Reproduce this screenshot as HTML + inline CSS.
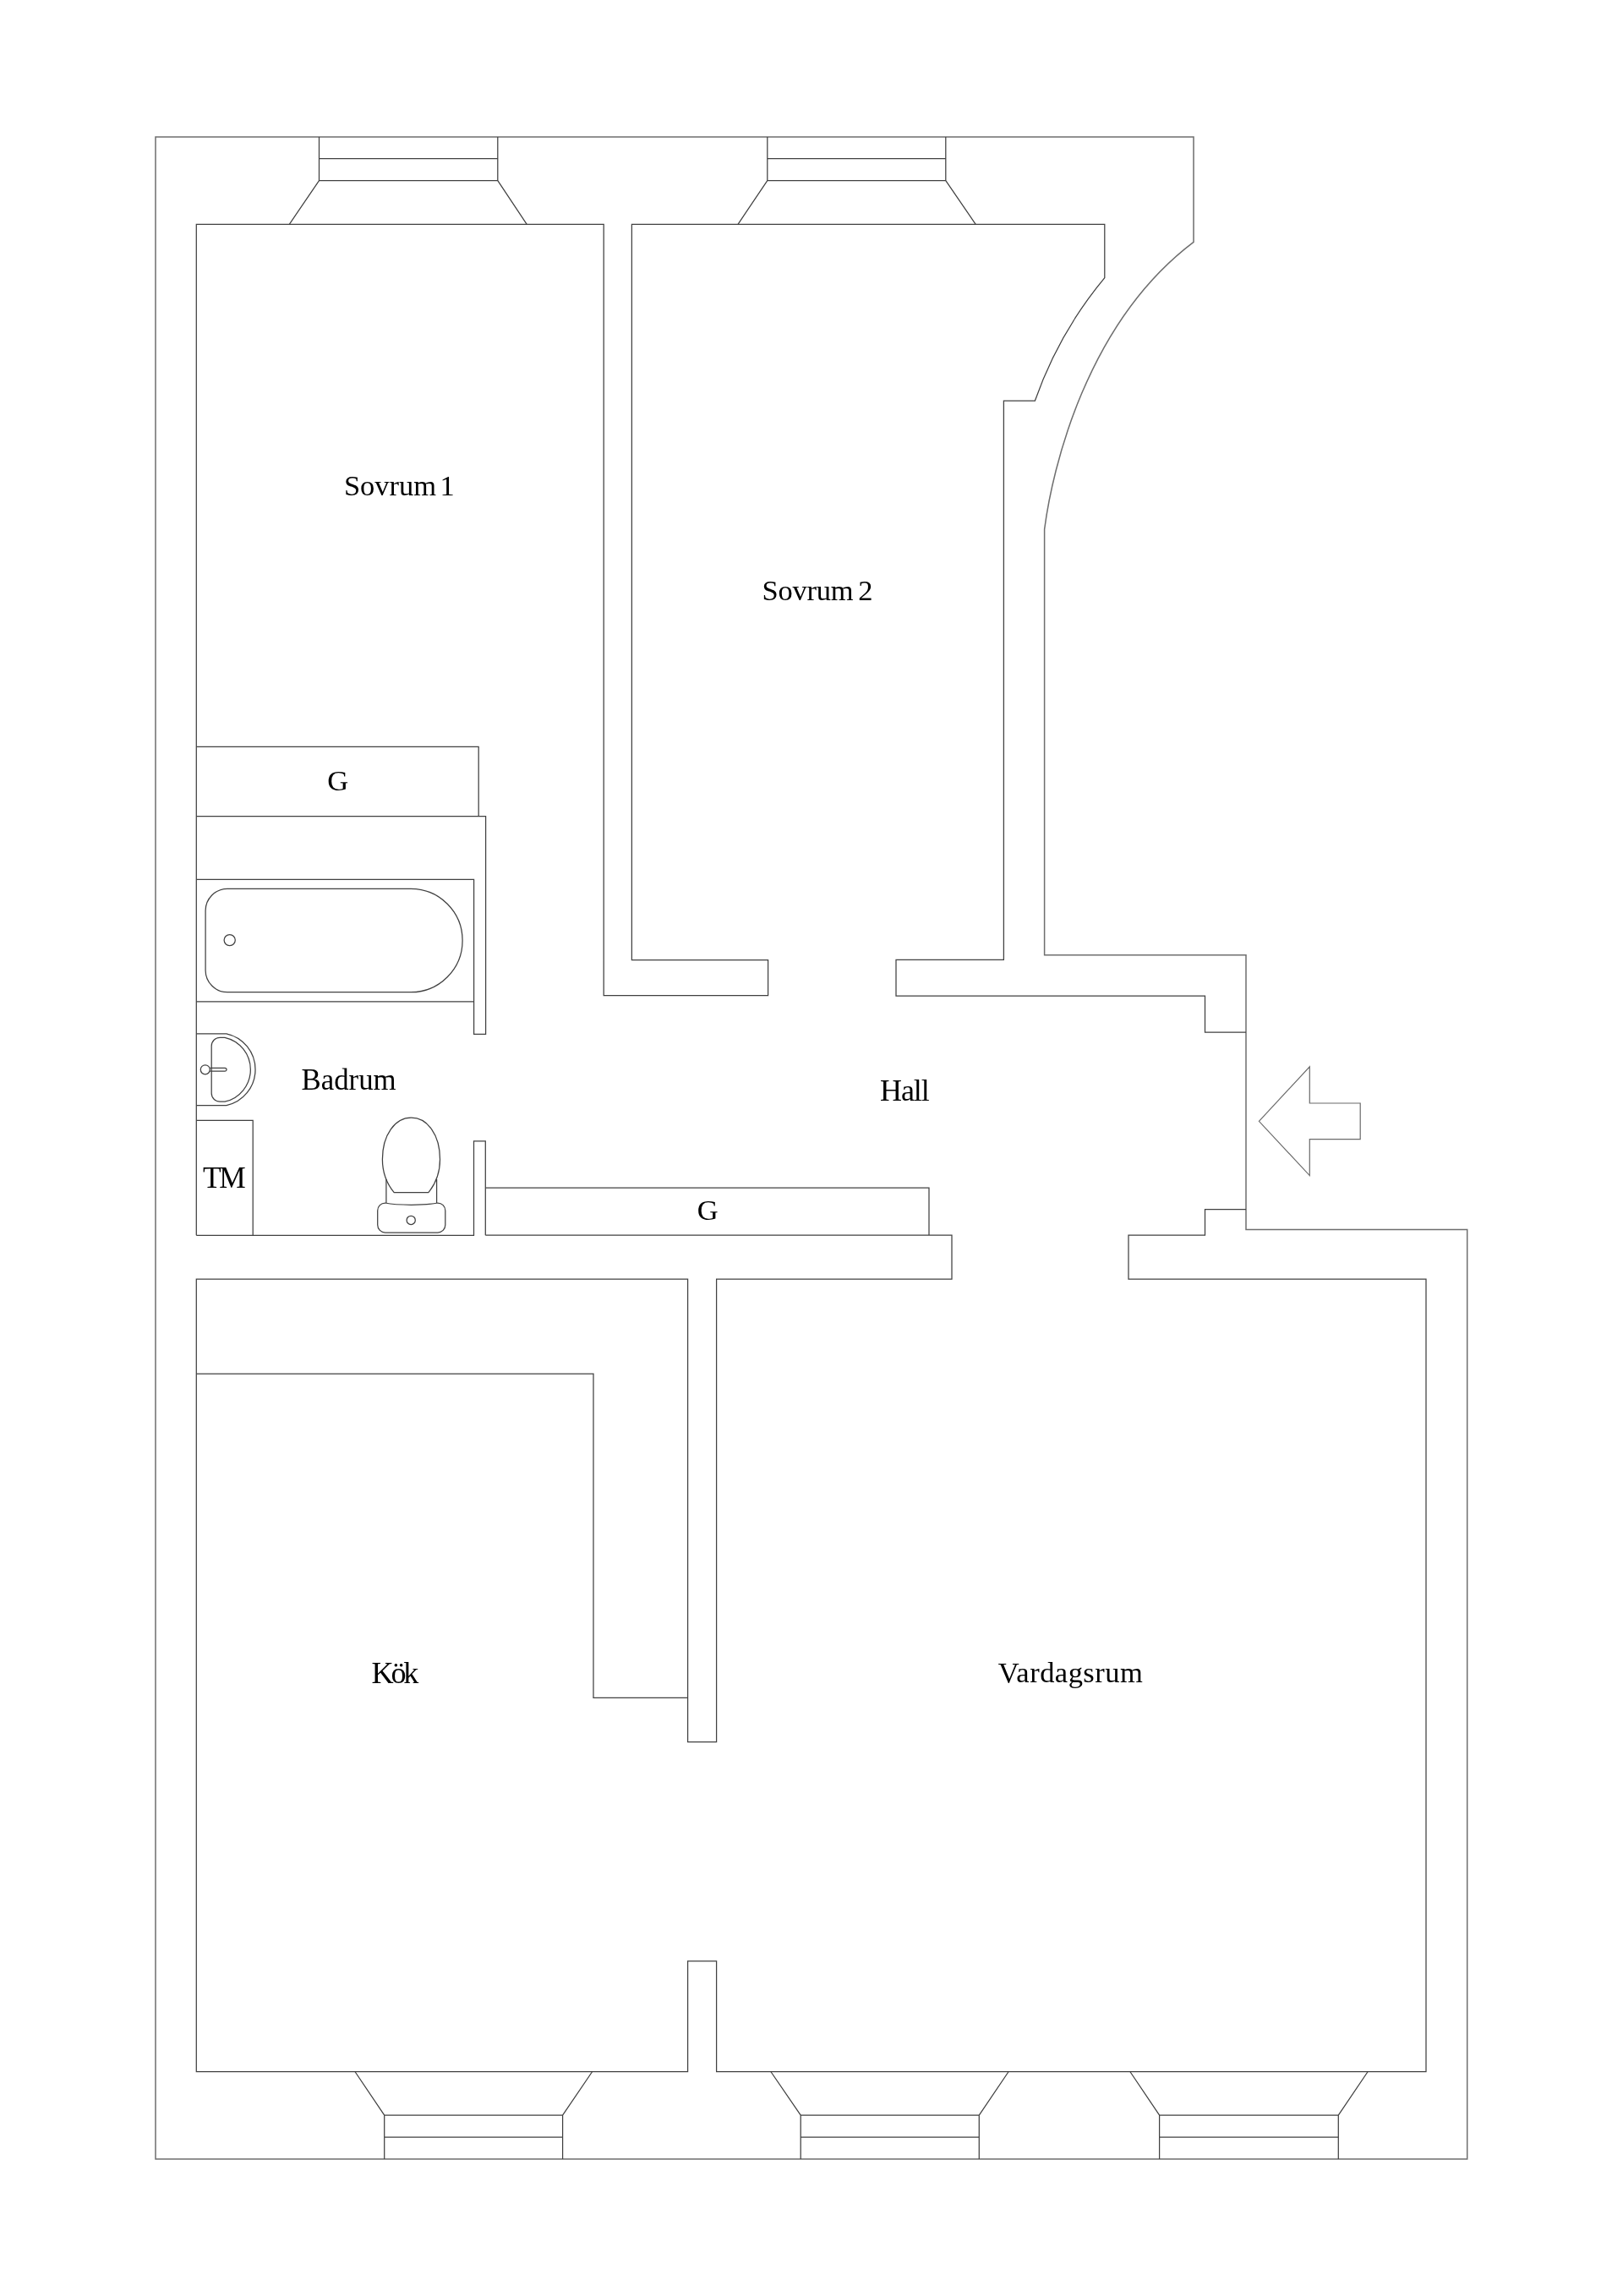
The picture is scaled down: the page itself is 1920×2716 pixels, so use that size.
<!DOCTYPE html>
<html>
<head>
<meta charset="utf-8">
<style>
html,body{margin:0;padding:0;background:#fff;}
body{width:1920px;height:2716px;overflow:hidden;}
svg{display:block;}
text{will-change:transform;}
text{font-family:"Liberation Serif", serif;font-size:34.5px;fill:#000;}
</style>
</head>
<body>
<svg width="1920" height="2716" viewBox="0 0 1920 2716">
<g fill="none" stroke="#6e6e6e" stroke-width="1.5" stroke-linejoin="miter">
  <!-- outer perimeter -->
  <path d="M184,162.1 H1412 V286.3 C1284.8,382.4 1244.9,555 1235.6,626.1 V1129.7 H1474 V1454.5 H1735.7 V2553.9 H184 Z"/>
</g>
<g fill="none" stroke="#404040" stroke-width="1.25" stroke-linejoin="miter">
  <!-- top windows -->
  <path d="M377.5,162 V213.6 H588.8 V162 M377.5,187.6 H588.8 M377.5,213.6 L342.3,265.3 M588.8,213.6 L623.2,265.3"/>
  <path d="M907.8,162 V213.6 H1118.8 V162 M907.8,187.6 H1118.8 M907.8,213.6 L873,265.3 M1118.8,213.6 L1154.2,265.3"/>
  <!-- Sovrum 1 outline -->
  <path d="M232.3,1461.3 V265.3 H714.2 V1177.6 H908.6 V1135.5 H747.4 V265.3 H1306.8 V328.6 A468.5,468.5 0 0 0 1224.4,474 H1187.4 V1135.3 H1060 V1178 H1425.5 V1221.1 H1474"/>
  <!-- G closet 1 -->
  <path d="M232.3,883.4 H566.2 V965.5 M232.3,965.5 H574.6 V1223.3 H560.6 V1040.4 H232.3 M232.3,1184.8 H560.6"/>
  <!-- bathtub -->
  <path d="M269,1051.3 H486 A61.2,61.2 0 0 1 486,1173.7 H269 A26,26 0 0 1 243.1,1147.7 V1077.3 A26,26 0 0 1 269,1051.3 Z"/>
  <circle cx="271.7" cy="1112.1" r="6.6"/>
  <!-- sink -->
  <path d="M232.3,1222.8 H267.9 A43.4,43.4 0 0 1 267.9,1307.6 H232.3"/>
  <path d="M260.2,1227.3 H266 A38.9,38.9 0 0 1 266,1303.2 H260.2 A10,10 0 0 1 250.2,1293.2 V1237.3 A10,10 0 0 1 260.2,1227.3 Z"/>
  <circle cx="242.8" cy="1265.3" r="5.5"/>
  <path d="M248.3,1263.4 H266.2 A1.85,1.85 0 0 1 266.2,1267.1 H248.3"/>
  <!-- TM -->
  <path d="M232.3,1325.3 H299.2 V1461.3"/>
  <!-- bathroom bottom -->
  <path d="M232.3,1461.3 H560.5 V1349.8 H574.3 V1461.3"/>
  <!-- toilet -->
  <path d="M466.2,1410.7 H506.8 C513.5,1402.5 520.5,1390 520.5,1371.5 C520.5,1342 505.5,1322.2 486.5,1322.2 C467.5,1322.2 452.4,1342 452.4,1371.5 C452.4,1390 459.5,1402.5 466.2,1410.7 Z"/>
  <path d="M456.9,1395 V1423 M516.6,1395 V1423"/>
  <path d="M455.7,1423 C470,1426 503,1426 517.8,1423 A9,9 0 0 1 526.8,1432 V1449 A9,9 0 0 1 517.8,1458 H455.7 A9,9 0 0 1 446.7,1449 V1432 A9,9 0 0 1 455.7,1423 Z"/>
  <circle cx="486.2" cy="1443.4" r="5.1"/>
  <!-- hall G closet + wall -->
  <path d="M574.4,1405 H1099 V1461.2 M574.4,1461.2 H1126 V1513 H847.6 V2060.6 H813.6 V1513 H232.3 V2450.5 H813.6 V2319.8 H847.6 V2450.5 H1687 V1513 H1335 V1461.1 H1425.5 V1430.5 H1474"/>
  <!-- kitchen counter -->
  <path d="M232.3,1625 H702 V2008.4 H813.6"/>
  <!-- bottom windows -->
  <path d="M454.7,2553.9 V2502.1 H665.6 V2553.9 M454.7,2528.2 H665.6 M454.7,2502.1 L419.9,2450.5 M665.6,2502.1 L700.7,2450.5"/>
  <path d="M947.2,2553.9 V2502.1 H1158.3 V2553.9 M947.2,2528.2 H1158.3 M947.2,2502.1 L911.8,2450.5 M1158.3,2502.1 L1193.2,2450.5"/>
  <path d="M1371.6,2553.9 V2502.1 H1583.3 V2553.9 M1371.6,2528.2 H1583.3 M1371.6,2502.1 L1336.8,2450.5 M1583.3,2502.1 L1618.2,2450.5"/>
</g>
<path fill="none" stroke="#6a6a6a" stroke-width="1.2" d="M1489.4,1326.3 L1549.3,1261.9 V1305 H1609.2 V1347.6 H1549.3 V1390.6 Z"/>
<text x="406.9" y="586.1">Sovrum</text>
<text x="520.5" y="586.1">1</text>
<text x="901.6" y="709.8" textLength="108.1" lengthAdjust="spacing">Sovrum</text>
<text x="1015.3" y="709.8">2</text>
<text x="824.8" y="1442.6">G</text>
<text x="387.3" y="934.6">G</text>
<text x="356.5" y="1288.7" style="font-size:34.8px">Badrum</text>
<text x="239.9" y="1405.1" textLength="50.7" lengthAdjust="spacing" style="font-size:35.4px">TM</text>
<text x="1041.1" y="1301.7" textLength="58.7" lengthAdjust="spacing" style="font-size:36.0px">Hall</text>
<text x="439.6" y="1990.7" textLength="55.8" lengthAdjust="spacing" style="font-size:36.2px">Kök</text>
<text x="1180.8" y="1990.0" textLength="171.0" lengthAdjust="spacing">Vardagsrum</text>
</svg>
</body>
</html>
